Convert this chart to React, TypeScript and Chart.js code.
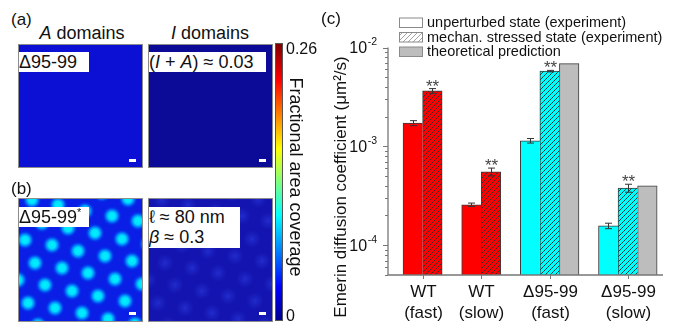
import React, { useEffect, useRef } from "react";
import { Chart, registerables } from "chart.js";
Chart.register(...registerables);

const FONT = '"Liberation Sans", Arial, Helvetica, sans-serif';

// ---------- Panel (c) data ----------
const categories = [["WT", "(fast)"], ["WT", "(slow)"], ["Δ95-99", "(fast)"], ["Δ95-99", "(slow)"]];
const unperturbed = [1.72e-3, 2.57e-4, 1.14e-3, 1.57e-4];
const unperturbedErr = [0.1e-3, 0.1e-4, 0.06e-3, 0.1e-4];
const stressed = [3.64e-3, 5.53e-4, 5.77e-3, 3.79e-4];
const stressedErr = [0.2e-3, 0.5e-4, 0.1e-3, 0.35e-4];
const theory: (number | null)[] = [null, null, 6.86e-3, 3.99e-4];
const significance = ["**", "**", "**", "**"];
const yTickExponents = [-4, -3, -2];
const legendLabels = ["unperturbed state (experiment)", "mechan. stressed state (experiment)", "theoretical prediction"];
const yTitle = "Emerin diffusion coefficient (μm²/s)";

// ---------- Panel (b) data: domain centres ----------
const latticeX = [7, 34, 60, 87, 114, -3, 24, 50, 77, 104, 130, 14, 40, 67, 94, 120, 84, 110, -10, 17, 44, 70, 97, 124, 0, 27, 54, 80, 107, 10, 37, 64, 90, 117, 20];
const latticeY = [42, 47, 53, 58, 63, 19, 25, 30, 35, 41, 46, 2, 7, 13, 18, 23, -5, 1, 59, 65, 70, 75, 81, 86, 82, 87, 93, 98, 103, 105, 110, 115, 121, 126, 127];

const categoryColors = ["#ff0000", "#ff0000", "#00ffff", "#00ffff"];

// slot layout derived from which bars exist
const seriesList = [unperturbed, stressed, theory];
const slotOf: number[][] = seriesList.map(() => []);
const groupCenter: number[] = [];
(() => {
  let slot = 0;
  categories.forEach((_, ci) => {
    const used: number[] = [];
    seriesList.forEach((s, si) => {
      if (s[ci] != null) { slotOf[si][ci] = slot; used.push(slot); slot++; }
    });
    groupCenter.push((used[0] + used[used.length - 1]) / 2);
    slot++;
  });
})();

function hatch(bg: string, line: string, size = 5, lw = 0.9) {
  const c = document.createElement("canvas");
  c.width = size; c.height = size;
  const g = c.getContext("2d")!;
  g.fillStyle = bg; g.fillRect(0, 0, size, size);
  g.strokeStyle = line; g.lineWidth = lw;
  g.beginPath();
  g.moveTo(0, size); g.lineTo(size, 0);
  g.moveTo(-1, 1); g.lineTo(1, -1);
  g.moveTo(size - 1, size + 1); g.lineTo(size + 1, size - 1);
  g.stroke();
  return g.createPattern(c, "repeat")!;
}

function blobCanvas(size: number, stops: [number, string][]) {
  const c = document.createElement("canvas");
  c.width = size; c.height = size;
  const g = c.getContext("2d")!;
  const r = size / 2;
  const grad = g.createRadialGradient(r, r, 0, r, r, r);
  stops.forEach(([o, col]) => grad.addColorStop(o, col));
  g.fillStyle = grad;
  g.fillRect(0, 0, size, size);
  return c;
}

function BarPanel() {
  const ref = useRef<HTMLCanvasElement>(null);
  useEffect(() => {
    const build = (si: number) =>
      categories
        .map((_, ci) => (seriesList[si][ci] == null ? null : { x: slotOf[si][ci], y: seriesList[si][ci] as number, ci }))
        .filter(Boolean) as { x: number; y: number; ci: number }[];
    const d0 = build(0), d1 = build(1), d2 = build(2);
    const hatchRed = hatch("#ff0000", "#2a2a2a");
    const hatchCyan = hatch("#00ffff", "#2a2a2a");
    const legendHatch = hatch("#ffffff", "#9a9a9a");
    const edge = "#3c3c3c";

    const decor = {
      id: "decor",
      afterDatasetsDraw(c: any) {
        const { ctx, chartArea: a, scales } = c;
        const x = scales.x, y = scales.y;
        ctx.save();
        // error bars + stars
        ctx.strokeStyle = "#333";
        ctx.lineWidth = 1;
        const errs: [number[], number[], number][] = [[unperturbed, unperturbedErr, 0], [stressed, stressedErr, 1]];
        categories.forEach((_, ci) => {
          errs.forEach(([vals, e, si]) => {
            const px = Math.round(x.getPixelForValue(slotOf[si][ci])) + 0.5;
            const top = y.getPixelForValue(vals[ci] + e[ci]);
            const bot = y.getPixelForValue(vals[ci] - e[ci]);
            ctx.beginPath();
            ctx.moveTo(px, top); ctx.lineTo(px, bot);
            ctx.moveTo(px - 3.5, top); ctx.lineTo(px + 3.5, top);
            ctx.moveTo(px - 3.5, bot); ctx.lineTo(px + 3.5, bot);
            ctx.stroke();
            if (si === 1 && significance[ci]) {
              ctx.font = `17px ${FONT}`;
              ctx.fillStyle = "#444";
              ctx.textAlign = "center";
              ctx.textBaseline = "alphabetic";
              const m = ctx.measureText(significance[ci]);
              const cy = top - 6;
              ctx.fillText(significance[ci], px, cy + (m.actualBoundingBoxAscent - m.actualBoundingBoxDescent) / 2);
            }
          });
        });
        // axes
        ctx.strokeStyle = "#777";
        ctx.lineWidth = 1.3;
        ctx.beginPath();
        ctx.moveTo(a.left, a.top); ctx.lineTo(a.left, a.bottom); ctx.lineTo(a.right, a.bottom);
        ctx.stroke();
        ctx.lineWidth = 1;
        for (let e = -5; e <= -2; e++) {
          for (let k = 1; k <= 9; k++) {
            const v = k * Math.pow(10, e);
            if (v < y.min * 0.999 || v > y.max * 1.001) continue;
            const py = Math.round(y.getPixelForValue(v)) + 0.5;
            const len = k === 1 ? 5 : 3;
            ctx.beginPath(); ctx.moveTo(a.left - len, py); ctx.lineTo(a.left, py); ctx.stroke();
          }
        }
        // y labels
        ctx.fillStyle = "#111";
        yTickExponents.forEach((e) => {
          const py = y.getPixelForValue(Math.pow(10, e));
          const right = a.left - 11;
          ctx.font = `10.5px ${FONT}`;
          const sup = `-${-e}`;
          const sw = ctx.measureText(sup).width;
          ctx.textAlign = "left"; ctx.textBaseline = "middle";
          ctx.fillText(sup, right - sw, py - 5);
          ctx.font = `16px ${FONT}`;
          ctx.textAlign = "right";
          ctx.fillText("10", right - sw - 0.5, py + 1);
        });
        // x ticks & labels
        ctx.strokeStyle = "#777";
        groupCenter.forEach((g, ci) => {
          const px = Math.round(x.getPixelForValue(g)) + 0.5;
          ctx.beginPath(); ctx.moveTo(px, a.bottom); ctx.lineTo(px, a.bottom + 4); ctx.stroke();
          ctx.font = `17px ${FONT}`;
          ctx.textAlign = "center"; ctx.textBaseline = "middle";
          ctx.fillStyle = "#111";
          ctx.fillText(categories[ci][0], px, a.bottom + 17);
          ctx.fillText(categories[ci][1], px, a.bottom + 38);
        });
        // y title
        ctx.save();
        ctx.translate(a.left - 47, 187);
        ctx.rotate(-Math.PI / 2);
        ctx.font = `17px ${FONT}`;
        ctx.textAlign = "center"; ctx.textBaseline = "middle";
        ctx.fillText(yTitle, 0, 0);
        ctx.restore();
        // panel label
        ctx.font = `17px ${FONT}`;
        ctx.textAlign = "left"; ctx.textBaseline = "middle";
        ctx.fillText("(c)", 21, 19);
        // legend
        const fills = ["#ffffff", legendHatch, "#bdbdbd"];
        const rowY = [22.5, 37, 51.5];
        legendLabels.forEach((lab, i) => {
          const bx = a.left + 11.5, by = rowY[i] - 4.5;
          ctx.fillStyle = fills[i] as any;
          ctx.fillRect(bx, by, 23, 9.5);
          ctx.strokeStyle = "#8a8a8a";
          ctx.lineWidth = 1;
          ctx.strokeRect(bx, by, 23, 9.5);
          ctx.fillStyle = "#111";
          ctx.font = `14.5px ${FONT}`;
          ctx.textAlign = "left"; ctx.textBaseline = "middle";
          ctx.fillText(lab, a.left + 39, rowY[i] + 0.5);
        });
        ctx.restore();
      },
    };

    const chart = new Chart(ref.current!, {
      type: "bar",
      data: {
        datasets: [
          {
            data: d0 as any,
            backgroundColor: d0.map((p) => categoryColors[p.ci]),
            borderColor: edge,
            borderWidth: { top: 1, left: 1, right: 0, bottom: 0 } as any,
          },
          {
            data: d1 as any,
            backgroundColor: d1.map((p) => (categoryColors[p.ci] === "#ff0000" ? hatchRed : hatchCyan)) as any,
            borderColor: edge,
            borderWidth: d1.map((p) => ({ top: 1, left: 1, right: theory[p.ci] == null ? 1 : 0, bottom: 0 })) as any,
          },
          {
            data: d2 as any,
            backgroundColor: "#bdbdbd",
            borderColor: edge,
            borderWidth: { top: 1, left: 1, right: 1, bottom: 0 } as any,
          },
        ],
      },
      options: {
        responsive: false,
        animation: false,
        events: [],
        layout: { padding: { left: 88, right: 17, top: 47.5, bottom: 49 } },
        plugins: { legend: { display: false }, tooltip: { enabled: false } },
        datasets: { bar: { grouped: false, categoryPercentage: 1, barPercentage: 1, borderSkipped: false } } as any,
        scales: {
          x: {
            type: "linear",
            display: false,
            offset: false,
            min: -1.27,
            max: 12.8,
            afterBuildTicks: (s: any) => { s.ticks = groupCenter.map((v) => ({ value: v })); },
          } as any,
          y: { type: "logarithmic", display: false, min: 5e-5, max: 1e-2 },
        },
      },
      plugins: [decor],
    });
    return () => chart.destroy();
  }, []);
  return <canvas ref={ref} width={380} height={324} style={{ position: "absolute", left: 300, top: 0 }} />;
}

function HeatPanel({ bg, points, blob }: { bg: string; points?: { x: number; y: number }[]; blob?: () => HTMLCanvasElement }) {
  const ref = useRef<HTMLCanvasElement>(null);
  useEffect(() => {
    const style = blob ? blob() : undefined;
    const chart = new Chart(ref.current!, {
      type: "scatter",
      data: {
        datasets: points && style ? [{ data: points, pointStyle: style as any, pointRadius: 9, clip: false as any }] : [],
      },
      options: {
        responsive: false,
        animation: false,
        events: [],
        layout: { padding: 0, autoPadding: false } as any,
        plugins: { legend: { display: false }, tooltip: { enabled: false } },
        scales: {
          x: { type: "linear", display: false, min: 1, max: 124 },
          y: { type: "linear", display: false, min: 1, max: 123, reverse: true },
        },
      },
      plugins: [
        {
          id: "bg",
          beforeDraw(c: any) {
            const { ctx } = c;
            ctx.save();
            ctx.fillStyle = bg;
            ctx.fillRect(0, 0, c.width, c.height);
            ctx.restore();
          },
        },
      ],
    });
    return () => chart.destroy();
  }, []);
  return <canvas ref={ref} width={123} height={122} style={{ position: "absolute", left: 0, top: 0 }} />;
}

const Txt = ({ x, y, size, children, center, style }: any) => (
  <div
    style={{
      position: "absolute", left: x, top: y, fontSize: size, lineHeight: 1, whiteSpace: "nowrap",
      transform: center ? "translate(-50%,-50%)" : "translateY(-50%)", fontFamily: FONT, color: "#111", ...style,
    }}
  >
    {children}
  </div>
);

const Square = ({ left, top, children, barTop }: any) => (
  <div style={{ position: "absolute", left, top, width: 125, height: 124, boxSizing: "border-box", border: "1px solid #8c8c8c", overflow: "hidden" }}>
    {children}
    <div style={{ position: "absolute", left: 110, top: barTop, width: 7, height: 3, background: "#fff" }} />
  </div>
);

const Box = ({ top, width, height, children }: any) => (
  <div style={{ position: "absolute", left: -1, top, width, height, background: "#fff", fontFamily: FONT, fontSize: 18, lineHeight: "20px", color: "#111", paddingLeft: 1, whiteSpace: "nowrap" }}>
    {children}
  </div>
);

export default function App() {
  const pts = latticeX.map((x, i) => ({ x, y: latticeY[i] }));
  const brightBlob = () =>
    blobCanvas(24, [
      [0, "rgba(0,240,255,1)"],
      [0.3, "rgba(0,225,255,1)"],
      [0.5, "rgba(0,150,255,0.85)"],
      [0.72, "rgba(0,70,240,0.3)"],
      [0.9, "rgba(10,30,230,0)"],
    ]);
  const faintBlob = () =>
    blobCanvas(22, [
      [0, "rgba(40,52,215,0.75)"],
      [0.5, "rgba(32,42,200,0.4)"],
      [1, "rgba(20,20,180,0)"],
    ]);
  return (
    <div style={{ position: "fixed", left: 0, top: 0, width: 680, height: 324, background: "#fff", overflow: "hidden" }}>
      <Txt x={11} y={19} size={17}>(a)</Txt>
      <Txt x={82} y={33} size={18} center><i>A</i> domains</Txt>
      <Txt x={210} y={33} size={18} center><i>I</i> domains</Txt>
      <Square left={18} top={44} barTop={114}>
        <HeatPanel bg="#0c10d4" />
        <Box top={7} width={70} height={20}>Δ95-99</Box>
      </Square>
      <Square left={148} top={44} barTop={114}>
        <HeatPanel bg="#0b0b98" />
        <Box top={7} width={117} height={20}>(<i>I</i> + <i>A</i>) ≈ 0.03</Box>
      </Square>
      <Txt x={11} y={188} size={17}>(b)</Txt>
      <Square left={18} top={198} barTop={113}>
        <HeatPanel bg="#0a1ee6" points={pts} blob={brightBlob} />
        <Box top={8} width={70} height={20}>Δ95-99<sup style={{ fontSize: 11, lineHeight: 0 }}>*</sup></Box>
      </Square>
      <Square left={148} top={198} barTop={113}>
        <HeatPanel bg="#1414b0" points={pts} blob={faintBlob} />
        <Box top={8} width={91} height={41}>ℓ ≈ 80 nm<br /><i>β</i> ≈ 0.3</Box>
      </Square>
      <div
        style={{
          position: "absolute", left: 275, top: 43, width: 8, height: 278, boxSizing: "border-box", border: "1px solid #555",
          background: "linear-gradient(to top, #00008f 0%, #0000ff 12%, #00ffff 38%, #ffff00 62%, #ff0000 87%, #800000 100%)",
        }}
      />
      <Txt x={286} y={49} size={16}>0.26</Txt>
      <Txt x={286} y={316} size={16}>0</Txt>
      <Txt x={296} y={177} size={18} center style={{ transform: "translate(-50%,-50%) rotate(90deg)" }}>Fractional area coverage</Txt>
      <BarPanel />
    </div>
  );
}
